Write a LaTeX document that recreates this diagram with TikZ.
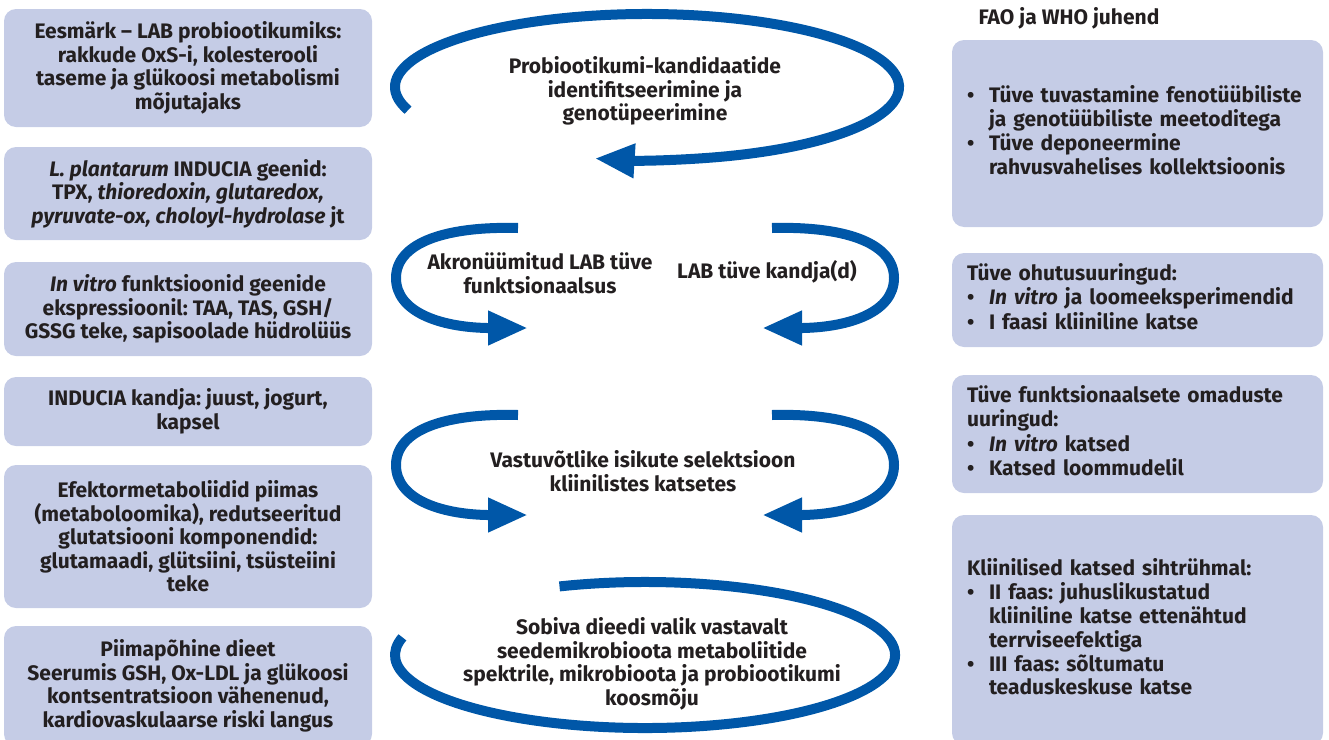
\documentclass[tikz,border=0pt]{standalone}
\usepackage{fontspec}
\setmainfont{Fira Sans}
\usetikzlibrary{arrows.meta}
\frenchspacing

\definecolor{boxfill}{HTML}{C5CCE6}
\definecolor{arrowblue}{HTML}{0057A8}
\definecolor{textdark}{HTML}{231F20}

\tikzset{
  every node/.style={font=\bfseries\fontsize{21}{23.5}\selectfont, text=textdark},
  lbox/.style={fill=boxfill, rounded corners=12pt, minimum width=368pt, align=center, inner sep=0pt},
  rbox/.style={fill=boxfill, rounded corners=12pt, text width=341pt, inner xsep=15pt, inner ysep=0pt, align=left},
  cyclearc/.style={draw=arrowblue, line width=10pt},
  bigtip/.style={-{Triangle[length=40pt,width=32pt]}},
  midtext/.style={align=center}
}

\begin{document}
\begin{tikzpicture}[x=1pt,y=-1pt]
\useasboundingbox (0,0) rectangle (1329,739);

% left column
\node[lbox, minimum height=118pt] (goal) at (188,68) {Eesmärk – LAB probiootikumiks:\\ rakkude OxS-i, kolesterooli\\ taseme ja glükoosi metabolismi\\ mõjutajaks};
\node[lbox, minimum height=93pt] (genes) at (188,193.5) {\textit{L. plantarum} INDUCIA geenid:\\ TPX, \textit{thioredoxin, glutaredox,}\\ \textit{pyruvate-ox, choloyl-hydrolase} jt};
\node[lbox, minimum height=94pt] (invitro) at (188,309) {\textit{In vitro} funktsioonid geenide\\ ekspressioonil: TAA, TAS, GSH/\\ GSSG teke, sapisoolade hüdrolüüs};
\node[lbox, minimum height=69pt] (carrier) at (188,411.5) {INDUCIA kandja: juust, jogurt,\\ kapsel};
\node[lbox, minimum height=143pt] (effector) at (188,536.5) {Efektormetaboliidid piimas\\ (metaboloomika), redutseeritud\\ glutatsiooni komponendid:\\ glutamaadi, glütsiini, tsüsteiini\\ teke};
\node[lbox, minimum height=120pt] (diet) at (188,686) {Piimapõhine dieet\\ Seerumis GSH, Ox-LDL ja glükoosi\\ kontsentratsioon vähenenud,\\ kardiovaskulaarse riski langus};

% right column
\node[anchor=west] (guide) at (975,18) {FAO ja WHO juhend};
\node[rbox, minimum height=187pt] (identify) at (1137.5,133.5) {\begin{tabular}{@{}p{22pt}@{}l@{}}
\textbullet & Tüve tuvastamine fenotüübiliste\\
 & ja genotüübiliste meetoditega\\
\textbullet & Tüve deponeermine\\
 & rahvusvahelises kollektsioonis
\end{tabular}};
\node[rbox, minimum height=94pt] (safety) at (1137.5,300) {\begin{tabular}{@{}p{22pt}@{}l@{}}
\multicolumn{2}{@{}l@{}}{Tüve ohutusuuringud:}\\
\textbullet & \textit{In vitro} ja loomeeksperimendid\\
\textbullet & I faasi kliiniline katse
\end{tabular}};
\node[rbox, minimum height=118pt] (function) at (1137.5,434) {\begin{tabular}{@{}p{22pt}@{}l@{}}
\multicolumn{2}{@{}l@{}}{Tüve funktsionaalsete omaduste}\\
\multicolumn{2}{@{}l@{}}{uuringud:}\\
\textbullet & \textit{In vitro} katsed\\
\textbullet & Katsed loommudelil
\end{tabular}};
\node[rbox, minimum height=230pt] (clinical) at (1137.5,630) {\begin{tabular}{@{}p{22pt}@{}l@{}}
\multicolumn{2}{@{}l@{}}{Kliinilised katsed sihtrühmal:}\\
\textbullet & II faas: juhuslikustatud\\
 & kliiniline katse ettenähtud\\
 & terrviseefektiga\\
\textbullet & III faas: sõltumatu\\
 & teaduskeskuse katse
\end{tabular}};

% middle texts
\node[midtext] (candidates) at (645,91) {Probiootikumi-kandidaatide\\ identifitseerimine ja\\ genotüpeerimine};
\node[midtext] (acronym) at (540,273) {Akronüümitud LAB tüve\\ funktsionaalsus};
\node[midtext] (vehicle) at (767,272) {LAB tüve kandja(d)};
\node[midtext] (selection) at (643,471) {Vastuvõtlike isikute selektsioon\\ kliinilistes katsetes};
\node[midtext] (dietchoice) at (652,664) {Sobiva dieedi valik vastavalt\\ seedemikrobioota metaboliitide\\ spektrile, mikrobioota ja probiootikumi\\ koosmõju};

% cycle arrows
\coordinate (topc) at (647,87);
\coordinate (botc) at (645,655);
\draw[cyclearc, bigtip] ([shift={(161.5:252 and 73)}]topc) arc[start angle=161.5, end angle=462, x radius=252, y radius=73];
\draw[cyclearc] ([shift={(250:250 and 73)}]botc) arc[start angle=250, end angle=554, x radius=250, y radius=73];

\draw[cyclearc, bigtip] (518,228) .. controls (440,226) and (396,245) .. (396,278) .. controls (396,312) and (440,327) .. (487,328) -- (528,328);
\draw[cyclearc, bigtip] (772,228) .. controls (850,226) and (894,245) .. (894,278) .. controls (894,312) and (850,327) .. (803,328) -- (762,328);
\draw[cyclearc, bigtip] (518,415) .. controls (440,413) and (396,432) .. (396,465) .. controls (396,499) and (440,514) .. (487,515) -- (528,515);
\draw[cyclearc, bigtip] (772,415) .. controls (850,413) and (894,432) .. (894,465) .. controls (894,499) and (850,514) .. (803,515) -- (762,515);
\end{tikzpicture}
\end{document}
